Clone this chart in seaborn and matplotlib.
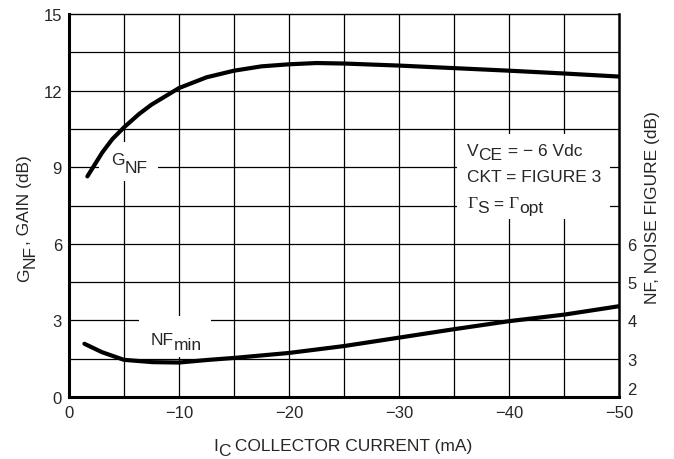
import matplotlib
matplotlib.use("Agg")
import matplotlib.pyplot as plt
from matplotlib import font_manager
from matplotlib.patches import Rectangle
import seaborn as sns
import pandas as pd

# Data
ic_gain = [-1.67, -3.03, -3.94, -5, -6.36, -7.5, -10, -12.5, -15, -17.5, -20, -22.5, -25, -30, -35, -40, -45, -50]
gain_db = [8.64, 9.58, 10.1, 10.56, 11.08, 11.45, 12.1, 12.52, 12.78, 12.95, 13.03, 13.08, 13.06, 12.98, 12.88, 12.78, 12.67, 12.55]

ic_nf = [-1.4, -3, -5, -7.6, -10, -12.7, -15, -20, -25, -30, -35, -40, -45, -50]
nf_db = [3.39, 3.17, 2.97, 2.91, 2.90, 2.97, 3.02, 3.15, 3.33, 3.55, 3.77, 3.98, 4.15, 4.37]

x_ticks = [0, -10, -20, -30, -40, -50]
x_ticklabels = ["0", "\u221210", "\u221220", "\u221230", "\u221240", "\u221250"]
left_ticks = [0, 3, 6, 9, 12, 15]
right_ticks = [2, 3, 4, 5, 6]

sns.set_style("white")
names = {f.name for f in font_manager.fontManager.ttflist}
NARROW = 'Liberation Sans Narrow' in names
FAM = ['Liberation Sans Narrow', 'Liberation Sans', 'DejaVu Sans'] if NARROW else ['Liberation Sans', 'DejaVu Sans']
SERIF = ['Liberation Serif', 'DejaVu Serif']
plt.rcParams['font.family'] = FAM
FS = 14 if NARROW else 12.5
TFS = 13.5 if NARROW else 12

fig = plt.figure(figsize=(6.74, 4.6), dpi=100)
ax = fig.add_axes([69/674, 62/460, 550/674, 383/460])

df_g = pd.DataFrame({"ic": ic_gain, "g": gain_db})
df_n = pd.DataFrame({"ic": ic_nf, "nf": nf_db})

# grid
for xv in range(-5, -50, -5):
    ax.axvline(xv, color='black', lw=0.9, zorder=1)
for yv in [1.5, 3, 4.5, 6, 7.5, 9, 10.5, 12, 13.5]:
    ax.axhline(yv, color='black', lw=0.9, zorder=1)

sns.lineplot(data=df_g, x="ic", y="g", ax=ax, color='black', lw=3, zorder=5)

ax.set_xlim(0, -50)
ax.set_ylim(0, 15)
ax.set_xticks(x_ticks)
ax.set_xticklabels(x_ticklabels)
ax.set_yticks(left_ticks)
ax.tick_params(axis='x', length=0, labelsize=TFS, pad=6)
ax.tick_params(axis='y', length=0, labelsize=TFS, pad=5)
ax.set_xlabel("")
ax.set_ylabel("")
for s in ['left', 'bottom']:
    ax.spines[s].set_linewidth(2.2)
ax.spines['top'].set_linewidth(1.0)
ax.spines['right'].set_linewidth(1.8)
for s in ax.spines.values():
    s.set_color('black')

# white boxes behind labels (break the grid)
for (x0, x1, y0, y1) in [(-2.75, -8.1, 8.46, 9.99), (-6.36, -12.9, 1.57, 3.17), (-35.27, -49.18, 6.97, 10.3)]:
    ax.add_patch(Rectangle((x0, y0), x1 - x0, y1 - y0, facecolor='white', edgecolor='none', zorder=2))

ax2 = ax.twinx()
sns.lineplot(data=df_n, x="ic", y="nf", ax=ax2, color='black', lw=3, zorder=5)
ax2.set_ylim(2, 12)
ax2.set_yticks(right_ticks)
ax2.tick_params(axis='y', length=0, labelsize=TFS, pad=6)
ax2.set_ylabel("")
ax2.set_xlim(0, -50)
for s in ax2.spines.values():
    s.set_visible(False)
ax2.get_yticklabels()[0].set_va('bottom')


def chain(x, y, parts, coords='data', fs=FS):
    """Horizontal text made of pieces: (text, baseline shift in points, family)."""
    s, dy, fam = parts[0]
    base = ax.annotate(s, xy=(x, y), xycoords=coords, xytext=(0, dy), textcoords='offset points',
                       ha='left', va='baseline', fontsize=fs, family=fam, zorder=6,
                       annotation_clip=False)
    prev = base
    for s, dy, fam in parts[1:]:
        prev = ax.annotate(s, xy=(1, 0), xycoords=(prev, base), xytext=(0, dy),
                           textcoords='offset points', ha='left', va='bottom',
                           fontsize=fs, family=fam, zorder=6, annotation_clip=False)
    return base


def vchain(x, y, parts, fs=FS):
    """Vertical (rotated 90) text made of pieces: (text, shift right in points)."""
    s, dx = parts[0]
    base = ax.annotate(s, xy=(x, y), xycoords='figure fraction', xytext=(dx, 0),
                       textcoords='offset points', rotation=90, ha='right', va='bottom',
                       fontsize=fs, annotation_clip=False)
    prev = base
    for s, dx in parts[1:]:
        prev = ax.annotate(s, xy=(1, 1), xycoords=(base, prev), xytext=(dx, 0),
                           textcoords='offset points', rotation=90, ha='right', va='bottom',
                           fontsize=fs, annotation_clip=False)
    return base


# in-plot labels
chain(-3.82, 9.13, [("G", 0, FAM), ("NF", -5.5, FAM)])
chain(-7.45, 2.08, [("NF", 0, FAM), ("min", -3.6, FAM)])
chain(-36.18, 9.48, [("V", 0, FAM), ("CE", -3, FAM), (" = \u2212 6 Vdc", 0, FAM)])
chain(-36.18, 8.46, [("CKT = FIGURE 3", 0, FAM)])
chain(-36.18, 7.44, [("\u0393", 0, SERIF), ("S", -3, FAM), (" = ", 0, FAM), ("\u0393", 0, SERIF), ("opt", -3, FAM)])

# axis labels
vchain(32/674, (460 - 282)/460, [("G", 0), ("NF", 4), (", GAIN (dB)", 0)])
fig.text(652/674, 1 - 208/460, "NF, NOISE FIGURE (dB)", rotation=90, ha='center', va='center', fontsize=FS)
chain(213/674, (460 - 451)/460, [("I", 0, FAM), ("C", -3.6, FAM), (" COLLECTOR CURRENT (mA)", 0, FAM)],
      coords='figure fraction')

fig.savefig("out.png", dpi=100, facecolor='white')
